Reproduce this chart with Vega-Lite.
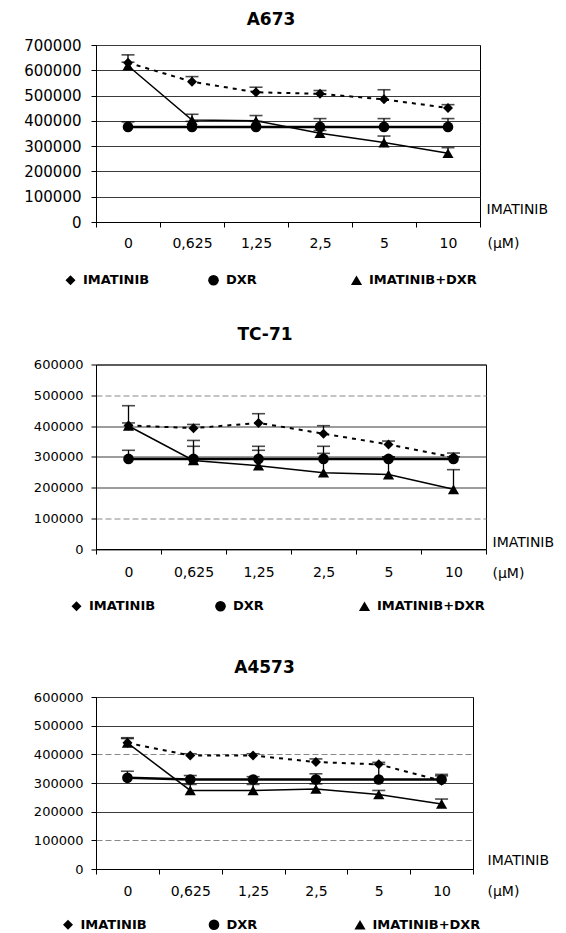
{
  "$schema": "https://vega.github.io/schema/vega-lite/v6.json",
  "autosize": "none",
  "padding": {"left": 96, "top": 45, "right": 470, "bottom": 888},
  "background": "white",
  "bounds": "flush",
  "spacing": 142.5,
  "resolve": {"scale": {"shape": "independent", "size": "independent"}, "legend": {"shape": "independent", "size": "independent"}},
  "config": {
    "view": {"stroke": "black", "strokeWidth": 1},
    "font": "DejaVu Sans",
    "title": {"font": "DejaVu Sans", "fontWeight": "bold", "color": "black", "anchor": "middle", "baseline": "alphabetic"},
    "axis": {"labelFont": "DejaVu Sans", "labelColor": "black", "titleFont": "DejaVu Sans", "titleFontSize": 14, "titleFontWeight": "normal", "titleColor": "black", "titleAlign": "left", "titleBaseline": "middle", "domainColor": "black", "tickColor": "black", "tickSize": 5, "gridOpacity": 1, "labelOverlap": false},
    "axisX": {"grid": false},
    "axisY": {"grid": true},
    "legend": {"labelFont": "DejaVu Sans", "labelFontSize": 13, "labelFontWeight": "bold", "labelColor": "black", "labelOffset": 6, "padding": 0, "symbolStrokeWidth": 0, "symbolFillColor": "black"}
  },
  "datasets": {
    "a673": [
      {"c": "0", "s": "IMATINIB", "v": 630000, "u": 661000},
      {"c": "0,625", "s": "IMATINIB", "v": 555000, "u": 575000},
      {"c": "1,25", "s": "IMATINIB", "v": 513000, "u": 533000},
      {"c": "2,5", "s": "IMATINIB", "v": 507000, "u": 520000},
      {"c": "5", "s": "IMATINIB", "v": 485000, "u": 523000},
      {"c": "10", "s": "IMATINIB", "v": 451000, "u": 464000},
      {"c": "0", "s": "DXR", "v": 376000, "u": 396000},
      {"c": "0,625", "s": "DXR", "v": 376000, "u": 398000},
      {"c": "1,25", "s": "DXR", "v": 376000, "u": 398000},
      {"c": "2,5", "s": "DXR", "v": 376000, "u": 409000},
      {"c": "5", "s": "DXR", "v": 376000, "u": 409000},
      {"c": "10", "s": "DXR", "v": 376000, "u": 409000},
      {"c": "0", "s": "IMATINIB+DXR", "v": 618000, "u": 632000},
      {"c": "0,625", "s": "IMATINIB+DXR", "v": 403000, "u": 426000},
      {"c": "1,25", "s": "IMATINIB+DXR", "v": 400000, "u": 421000},
      {"c": "2,5", "s": "IMATINIB+DXR", "v": 351000, "u": 362000},
      {"c": "5", "s": "IMATINIB+DXR", "v": 314000, "u": 340000},
      {"c": "10", "s": "IMATINIB+DXR", "v": 272000, "u": 294000}
    ],
    "tc71": [
      {"c": "0", "s": "IMATINIB", "v": 402000, "u": 466000},
      {"c": "0,625", "s": "IMATINIB", "v": 393000, "u": 405000},
      {"c": "1,25", "s": "IMATINIB", "v": 410000, "u": 440000},
      {"c": "2,5", "s": "IMATINIB", "v": 375000, "u": 401000},
      {"c": "5", "s": "IMATINIB", "v": 340000, "u": 351000},
      {"c": "10", "s": "IMATINIB", "v": 298000, "u": 312000},
      {"c": "0", "s": "DXR", "v": 293000, "u": 321000},
      {"c": "0,625", "s": "DXR", "v": 293000, "u": 334000},
      {"c": "1,25", "s": "DXR", "v": 293000, "u": 334000},
      {"c": "2,5", "s": "DXR", "v": 293000, "u": 334000},
      {"c": "5", "s": "DXR", "v": 293000, "u": 300000},
      {"c": "10", "s": "DXR", "v": 293000, "u": 300000},
      {"c": "0", "s": "IMATINIB+DXR", "v": 400000, "u": 410000},
      {"c": "0,625", "s": "IMATINIB+DXR", "v": 288000, "u": 353000},
      {"c": "1,25", "s": "IMATINIB+DXR", "v": 271000, "u": 321000},
      {"c": "2,5", "s": "IMATINIB+DXR", "v": 248000, "u": 311000},
      {"c": "5", "s": "IMATINIB+DXR", "v": 242000, "u": 299000},
      {"c": "10", "s": "IMATINIB+DXR", "v": 194000, "u": 258000}
    ],
    "a4573": [
      {"c": "0", "s": "IMATINIB", "v": 440000, "u": 458000},
      {"c": "0,625", "s": "IMATINIB", "v": 396000, "u": 402000},
      {"c": "1,25", "s": "IMATINIB", "v": 396000, "u": 402000},
      {"c": "2,5", "s": "IMATINIB", "v": 373000, "u": 384000},
      {"c": "5", "s": "IMATINIB", "v": 365000, "u": 372000},
      {"c": "10", "s": "IMATINIB", "v": 308000, "u": 325000},
      {"c": "0", "s": "DXR", "v": 318000, "u": 341000},
      {"c": "0,625", "s": "DXR", "v": 312000, "u": 326000},
      {"c": "1,25", "s": "DXR", "v": 312000, "u": 322000},
      {"c": "2,5", "s": "DXR", "v": 312000, "u": 332000},
      {"c": "5", "s": "DXR", "v": 312000, "u": 365000},
      {"c": "10", "s": "DXR", "v": 312000, "u": 330000},
      {"c": "0", "s": "IMATINIB+DXR", "v": 440000, "u": 455000},
      {"c": "0,625", "s": "IMATINIB+DXR", "v": 274000, "u": 295000},
      {"c": "1,25", "s": "IMATINIB+DXR", "v": 274000, "u": 295000},
      {"c": "2,5", "s": "IMATINIB+DXR", "v": 279000, "u": 297000},
      {"c": "5", "s": "IMATINIB+DXR", "v": 260000, "u": 274000},
      {"c": "10", "s": "IMATINIB+DXR", "v": 227000, "u": 244000}
    ]
  },
  "vconcat": [
    {
      "width": 384,
      "height": 177,
      "title": {"text": "A673", "fontSize": 17, "dx": -17, "offset": 9},
      "data": {"name": "a673"},
      "encoding": {
        "x": {"field": "c", "type": "ordinal", "sort": ["0", "0,625", "1,25", "2,5", "5", "10"], "scale": {"paddingInner": 0, "paddingOuter": 0},
          "axis": {"title": "(µM)", "titleX": 391, "titleY": 21, "labelFontSize": 14, "labelPadding": 9, "labelAngle": 0, "tickBand": "extent"}},
        "y": {"field": "v", "type": "quantitative", "scale": {"domain": [0, 700000], "nice": false},
          "axis": {"title": "IMATINIB", "titleAngle": 0, "titleX": 390, "titleY": 164, "values": [0, 100000, 200000, 300000, 400000, 500000, 600000, 700000], "format": "d", "labelFontSize": 15, "labelPadding": 10, "gridColor": "#3a3a3a"}}
      },
      "layer": [
        {"transform": [{"filter": "datum.s === 'IMATINIB'"}], "mark": {"type": "line", "color": "black", "strokeDash": [4, 5], "strokeWidth": 2}, "encoding": {}},
        {"transform": [{"filter": "datum.s === 'DXR'"}], "mark": {"type": "line", "color": "black", "strokeWidth": 2.5}, "encoding": {}},
        {"transform": [{"filter": "datum.s === 'IMATINIB+DXR'"}], "mark": {"type": "line", "color": "black", "strokeWidth": 1.5}, "encoding": {}},
        {"mark": {"type": "rule", "color": "black", "strokeWidth": 1.3}, "encoding": {"y2": {"field": "u"}}},
        {"mark": {"type": "tick", "color": "black", "thickness": 1.6, "size": 13}, "encoding": {"y": {"field": "u", "type": "quantitative"}}},
        {"mark": {"type": "point", "filled": true, "color": "black", "opacity": 1},
          "encoding": {
            "shape": {"field": "s", "type": "nominal", "scale": {"domain": ["IMATINIB", "DXR", "IMATINIB+DXR"], "range": ["diamond", "circle", "triangle-up"]},
              "legend": {"orient": "none", "legendX": -32, "legendY": 228.5, "direction": "horizontal", "columns": 3, "gridAlign": "all", "columnPadding": 16, "title": null}},
            "size": {"field": "s", "type": "nominal", "scale": {"domain": ["IMATINIB", "DXR", "IMATINIB+DXR"], "range": [100, 125, 140]},
              "legend": {"orient": "none", "legendX": -32, "legendY": 228.5, "direction": "horizontal", "columns": 3, "gridAlign": "all", "columnPadding": 16, "title": null}}
          }}
      ]
    },
    {
      "bounds": "flush",
      "spacing": 147.5,
      "resolve": {"scale": {"shape": "independent", "size": "independent"}, "legend": {"shape": "independent", "size": "independent"}},
      "vconcat": [
        {
          "width": 390,
          "height": 184.5,
          "title": {"text": "TC-71", "fontSize": 17, "dx": -26, "offset": 15},
          "data": {"name": "tc71"},
          "encoding": {
            "x": {"field": "c", "type": "ordinal", "sort": ["0", "0,625", "1,25", "2,5", "5", "10"], "scale": {"paddingInner": 0, "paddingOuter": 0},
              "axis": {"title": "(µM)", "titleX": 396, "titleY": 24, "labelFontSize": 14, "labelPadding": 11, "labelAngle": 0, "tickBand": "extent"}},
            "y": {"field": "v", "type": "quantitative", "scale": {"domain": [0, 600000], "nice": false},
              "axis": {"title": "IMATINIB", "titleAngle": 0, "titleX": 396, "titleY": 178, "values": [0, 100000, 200000, 300000, 400000, 500000, 600000], "format": "d", "labelFontSize": 13, "labelPadding": 8,
                "gridColor": {"condition": {"test": "datum.value === 500000 || datum.value === 100000", "value": "#888888"}, "value": "#3a3a3a"},
                "gridDash": {"condition": {"test": "datum.value === 500000 || datum.value === 100000", "value": [6, 3]}, "value": []}}}
          },
          "layer": [
            {"transform": [{"filter": "datum.s === 'IMATINIB'"}], "mark": {"type": "line", "color": "black", "strokeDash": [4, 5], "strokeWidth": 2}, "encoding": {}},
            {"transform": [{"filter": "datum.s === 'DXR'"}], "mark": {"type": "line", "color": "black", "strokeWidth": 2.5}, "encoding": {}},
            {"transform": [{"filter": "datum.s === 'IMATINIB+DXR'"}], "mark": {"type": "line", "color": "black", "strokeWidth": 1.5}, "encoding": {}},
            {"mark": {"type": "rule", "color": "black", "strokeWidth": 1.3}, "encoding": {"y2": {"field": "u"}}},
            {"mark": {"type": "tick", "color": "black", "thickness": 1.6, "size": 13}, "encoding": {"y": {"field": "u", "type": "quantitative"}}},
            {"mark": {"type": "point", "filled": true, "color": "black", "opacity": 1},
              "encoding": {
                "shape": {"field": "s", "type": "nominal", "scale": {"domain": ["IMATINIB", "DXR", "IMATINIB+DXR"], "range": ["diamond", "circle", "triangle-up"]},
                  "legend": {"orient": "none", "legendX": -26, "legendY": 235, "direction": "horizontal", "columns": 3, "gridAlign": "all", "columnPadding": 17, "title": null}},
                "size": {"field": "s", "type": "nominal", "scale": {"domain": ["IMATINIB", "DXR", "IMATINIB+DXR"], "range": [100, 125, 140]},
                  "legend": {"orient": "none", "legendX": -26, "legendY": 235, "direction": "horizontal", "columns": 3, "gridAlign": "all", "columnPadding": 17, "title": null}}
              }}
          ]
        },
        {
          "width": 377,
          "height": 172,
          "title": {"text": "A4573", "fontSize": 17, "dx": -20, "offset": 14},
          "data": {"name": "a4573"},
          "encoding": {
            "x": {"field": "c", "type": "ordinal", "sort": ["0", "0,625", "1,25", "2,5", "5", "10"], "scale": {"paddingInner": 0, "paddingOuter": 0},
              "axis": {"title": "(µM)", "titleX": 391, "titleY": 22, "labelFontSize": 14, "labelPadding": 10, "labelAngle": 0, "tickBand": "extent"}},
            "y": {"field": "v", "type": "quantitative", "scale": {"domain": [0, 600000], "nice": false},
              "axis": {"title": "IMATINIB", "titleAngle": 0, "titleX": 391, "titleY": 163, "values": [0, 100000, 200000, 300000, 400000, 500000, 600000], "format": "d", "labelFontSize": 13, "labelPadding": 8,
                "gridColor": {"condition": {"test": "datum.value === 400000 || datum.value === 100000", "value": "#888888"}, "value": "#3a3a3a"},
                "gridDash": {"condition": {"test": "datum.value === 400000 || datum.value === 100000", "value": [6, 3]}, "value": []}}}
          },
          "layer": [
            {"transform": [{"filter": "datum.s === 'IMATINIB'"}], "mark": {"type": "line", "color": "black", "strokeDash": [4, 5], "strokeWidth": 2}, "encoding": {}},
            {"transform": [{"filter": "datum.s === 'DXR'"}], "mark": {"type": "line", "color": "black", "strokeWidth": 2.5}, "encoding": {}},
            {"transform": [{"filter": "datum.s === 'IMATINIB+DXR'"}], "mark": {"type": "line", "color": "black", "strokeWidth": 1.5}, "encoding": {}},
            {"mark": {"type": "rule", "color": "black", "strokeWidth": 1.3}, "encoding": {"y2": {"field": "u"}}},
            {"mark": {"type": "tick", "color": "black", "thickness": 1.6, "size": 13}, "encoding": {"y": {"field": "u", "type": "quantitative"}}},
            {"mark": {"type": "point", "filled": true, "color": "black", "opacity": 1},
              "encoding": {
                "shape": {"field": "s", "type": "nominal", "scale": {"domain": ["IMATINIB", "DXR", "IMATINIB+DXR"], "range": ["diamond", "circle", "triangle-up"]},
                  "legend": {"orient": "none", "legendX": -34.5, "legendY": 221, "direction": "horizontal", "columns": 3, "gridAlign": "all", "columnPadding": 19, "title": null}},
                "size": {"field": "s", "type": "nominal", "scale": {"domain": ["IMATINIB", "DXR", "IMATINIB+DXR"], "range": [100, 125, 140]},
                  "legend": {"orient": "none", "legendX": -34.5, "legendY": 221, "direction": "horizontal", "columns": 3, "gridAlign": "all", "columnPadding": 19, "title": null}}
              }}
          ]
        }
      ]
    }
  ]
}
